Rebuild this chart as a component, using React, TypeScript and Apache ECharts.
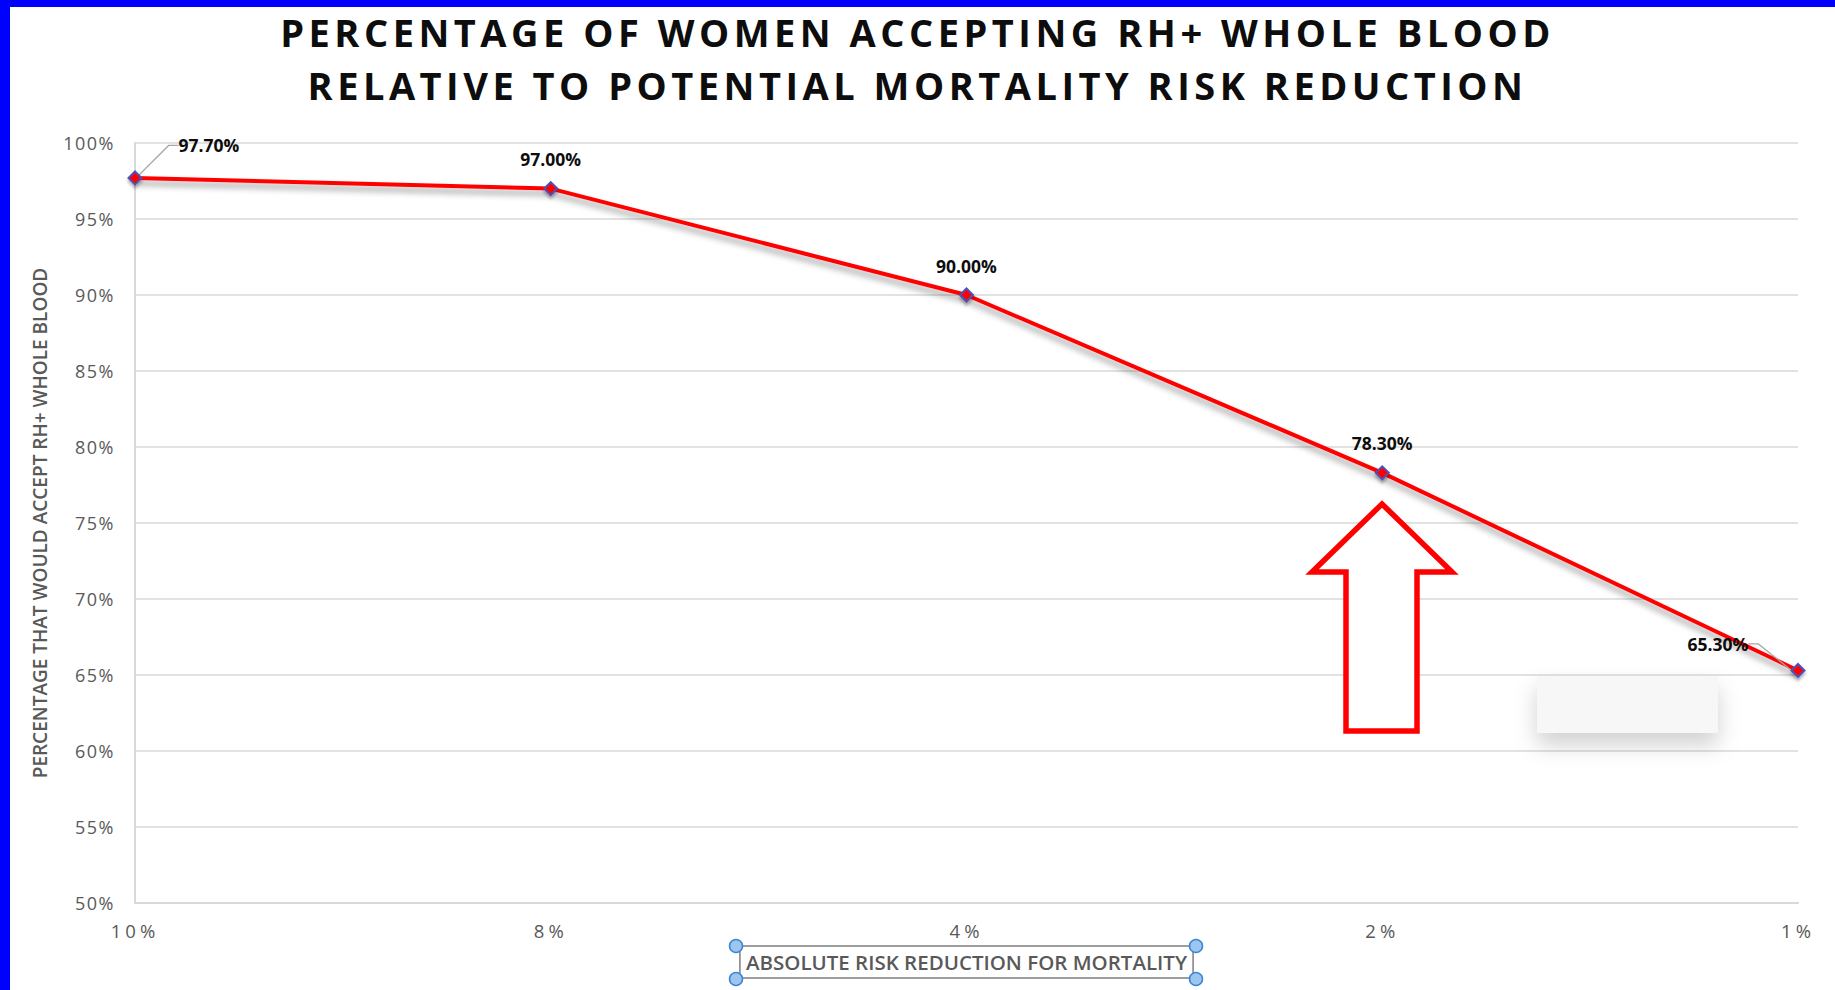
import React, { useEffect, useRef } from "react";
import * as echarts from "echarts";

// Absolute risk reduction for mortality (x categories)
const riskReductions = ["10%", "8%", "4%", "2%", "1%"];
// Share of women who would accept RH+ whole blood, in percent
const acceptance = [97.7, 97.0, 90.0, 78.3, 65.3];
// Value-axis range, in percent
const yMin = 50;
const yMax = 100;
const yStep = 5;

const titleText =
  "PERCENTAGE OF WOMEN ACCEPTING RH+ WHOLE BLOOD\nRELATIVE TO POTENTIAL MORTALITY RISK REDUCTION";
const xAxisTitle = "ABSOLUTE RISK REDUCTION FOR MORTALITY";
const yAxisTitle = "PERCENTAGE THAT WOULD ACCEPT RH+ WHOLE BLOOD";

const FONT = "'Open Sans', 'Noto Sans', sans-serif";
const GRID_COLOR = "#d9d9d9";
const LABEL_GRAY = "#595959";

// Tracking for the title and category labels (SVG text picks it up by font size)
const trackingCss = `
  svg text[style*="38px"] { letter-spacing: 4.5px; }
  svg text[style*="18.5px"] { letter-spacing: 4px; }
  svg text[style*="18px"] { letter-spacing: 1.5px; }
`;

export default function App() {
  const ref = useRef<HTMLDivElement | null>(null);

  useEffect(() => {
    if (!ref.current) return;
    const chart = echarts.init(ref.current, undefined, { renderer: "svg" });

    const lastIndex = acceptance.length - 1;
    const seriesData = acceptance.map((v, i) => ({
      value: v,
      labelLine: { show: i === 0 || i === lastIndex },
    }));

    // Selection handles around the x-axis title box
    const handle = (x: number, y: number) => ({
      type: "circle",
      shape: { cx: x, cy: y, r: 6.5 },
      style: { fill: "#9dc6ee", stroke: "#3d85d6", lineWidth: 1.5 },
      z: 100,
    });

    chart.setOption({
      animation: false,
      backgroundColor: "#ffffff",
      textStyle: { fontFamily: FONT },
      title: {
        text: titleText,
        left: "center",
        top: 5,
        padding: 0,
        textStyle: {
          fontFamily: FONT,
          fontWeight: "bold",
          fontSize: 38,
          lineHeight: 53,
          color: "#0d0d0d",
        },
      },
      grid: { left: 135, right: 37, top: 143, bottom: 87 },
      xAxis: {
        type: "category",
        data: riskReductions,
        boundaryGap: false,
        axisLine: { show: true, lineStyle: { color: GRID_COLOR, width: 2 } },
        axisTick: { show: false },
        axisLabel: {
          color: LABEL_GRAY,
          fontSize: 18.5,
          fontFamily: FONT,
          margin: 18,
        },
        splitLine: { show: false },
        name: xAxisTitle,
        nameLocation: "middle",
        nameGap: 43,
        nameTextStyle: {
          color: LABEL_GRAY,
          fontFamily: FONT,
          fontWeight: 600,
          fontSize: 20.5,
          lineHeight: 26,
          borderColor: "#7f7f7f",
          borderWidth: 1.5,
          padding: [3, 6, 3, 6],
        },
      },
      yAxis: {
        type: "value",
        min: yMin,
        max: yMax,
        interval: yStep,
        axisLine: { show: true, lineStyle: { color: GRID_COLOR, width: 2 } },
        axisTick: { show: false },
        axisLabel: {
          color: LABEL_GRAY,
          fontSize: 18,
          fontFamily: FONT,
          margin: 20,
          formatter: "{value}%",
        },
        splitLine: { show: true, lineStyle: { color: GRID_COLOR, width: 1.5 } },
        name: yAxisTitle,
        nameLocation: "middle",
        nameRotate: 90,
        nameGap: 86,
        nameTextStyle: {
          color: LABEL_GRAY,
          fontFamily: FONT,
          fontWeight: 600,
          fontSize: 19,
        },
      },
      series: [
        {
          type: "line",
          data: seriesData,
          symbol: "diamond",
          symbolSize: 13,
          lineStyle: {
            color: "#ff0000",
            width: 4,
            shadowColor: "rgba(0,0,0,0.38)",
            shadowBlur: 6,
            shadowOffsetY: 5,
          },
          itemStyle: {
            color: "#ff0000",
            borderColor: "#4f4fb8",
            borderWidth: 2,
            shadowColor: "rgba(0,0,0,0.3)",
            shadowBlur: 3,
            shadowOffsetY: 3,
          },
          label: {
            show: true,
            position: "top",
            distance: 13,
            fontFamily: FONT,
            fontWeight: "bold",
            fontSize: 17.5,
            color: "#0d0d0d",
            formatter: (p: any) => `${Number(p.value).toFixed(2)}%`,
          },
          labelLine: {
            lineStyle: { color: "#a6a6a6", width: 1.2 },
            length2: 10,
          },
          labelLayout: (p: any) => {
            if (p.dataIndex === 0) return { dx: 74, dy: -3 };
            if (p.dataIndex === lastIndex) return { dx: -80, dy: 3 };
            return {};
          },
          z: 5,
        },
      ],
      graphic: [
        // Blue frame along the left and top edges
        { type: "rect", shape: { x: 0, y: 0, width: 10, height: 990 }, style: { fill: "#0000ff" }, z: 200 },
        { type: "rect", shape: { x: 0, y: 0, width: 1835, height: 7 }, style: { fill: "#0000ff" }, z: 200 },
        // Hollow up-arrow callout
        {
          type: "polygon",
          shape: {
            points: [
              [1382, 504],
              [1452, 572],
              [1417, 572],
              [1417, 731],
              [1346, 731],
              [1346, 572],
              [1312, 572],
            ],
          },
          style: { fill: "#ffffff", stroke: "#ff0000", lineWidth: 5.5, lineJoin: "miter" },
          z: 50,
        },
        // Blank pale box with soft drop shadow
        {
          type: "rect",
          shape: { x: 1537, y: 676, width: 181, height: 57, r: 2 },
          style: {
            fill: "#f7f7f7",
            shadowColor: "rgba(0,0,0,0.18)",
            shadowBlur: 22,
            shadowOffsetY: 12,
          },
          z: 40,
        },
        handle(736, 946),
        handle(1196, 946),
        handle(736, 979),
        handle(1196, 979),
      ],
    });

    return () => chart.dispose();
  }, []);

  return (
    <>
      <style>{trackingCss}</style>
      <div
        ref={ref}
        style={{ position: "fixed", left: 0, top: 0, width: 1835, height: 990, background: "#fff" }}
      />
    </>
  );
}
